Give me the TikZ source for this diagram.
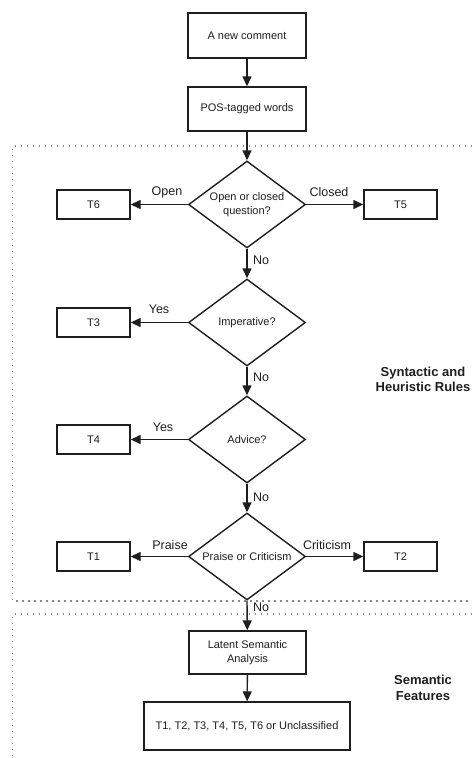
\documentclass[tikz,border=0pt]{standalone}
\usepackage{fontspec}
\setmainfont{Liberation Sans}
\usetikzlibrary{shapes.geometric,arrows.meta}
\definecolor{ink}{HTML}{1E1E1E}
\definecolor{dotc}{HTML}{8A8A8A}
\tikzset{
  stepbox/.style={draw=ink,line width=1.4pt,inner sep=0pt,align=center,font=\fontsize{11}{13.5}\selectfont,text=ink},
  decision/.style={diamond,draw=ink,line width=1.4pt,inner sep=0pt,aspect=1.345,minimum width=117pt,minimum height=87pt,align=center,font=\fontsize{11}{13.5}\selectfont,text=ink},
  flow/.style={draw=ink,line width=1.4pt,-{Triangle[length=10pt,width=9pt]}},
  lbl/.style={font=\fontsize{12.5}{14}\selectfont,text=ink,inner sep=0pt},
  region/.style={draw=dotc,line width=1.4pt,dash pattern=on 1.4pt off 4.6pt},
  regtitle/.style={font=\bfseries\fontsize{13}{15.5}\selectfont,align=center,text=ink,inner sep=0pt}
}
\begin{document}
\begin{tikzpicture}[x=1pt,y=-1pt]
\useasboundingbox (0,0) rectangle (472,758);
% regions
\coordinate (r1tl) at (12.7,146);
\coordinate (r1tr) at (472,146);
\coordinate (r1bl) at (12.7,601);
\coordinate (r1br) at (472,601);
\coordinate (r2tl) at (12.7,614);
\coordinate (r2tr) at (472,614);
\coordinate (r2bl) at (12.7,758);
\draw[region] (r1tr) -- (r1tl) -- (r1bl) -- (r1br);
\draw[region] (r2tr) -- (r2tl) -- (r2bl);
% nodes
\node[stepbox,minimum width=118pt,minimum height=45pt] (new) at (247,35.5) {A new comment};
\node[stepbox,minimum width=118pt,minimum height=44pt] (pos) at (247,109) {POS-tagged words};
\node[decision] (d1) at (247,204.5) {Open or closed\\question?};
\node[stepbox,minimum width=73pt,minimum height=29pt] (t6) at (93.5,204.5) {T6};
\node[stepbox,minimum width=73pt,minimum height=29pt] (t5) at (400.5,204.5) {T5};
\node[decision] (d2) at (247,322.5) {Imperative?};
\node[stepbox,minimum width=73pt,minimum height=29pt] (t3) at (93.5,322.5) {T3};
\node[decision] (d3) at (247,439.5) {Advice?};
\node[stepbox,minimum width=73pt,minimum height=29pt] (t4) at (93.5,439.5) {T4};
\node[decision] (d4) at (247,556.5) {Praise or Criticism};
\node[stepbox,minimum width=73pt,minimum height=29pt] (t1) at (93.5,556.5) {T1};
\node[stepbox,minimum width=73pt,minimum height=29pt] (t2) at (400.5,556.5) {T2};
\node[stepbox,minimum width=117pt,minimum height=43pt] (lsa) at (247.5,652.5) {Latent Semantic\\Analysis};
\node[stepbox,minimum width=206pt,minimum height=48pt] (out) at (247,726) {T1, T2, T3, T4, T5, T6 or Unclassified};
% connectors
\draw[flow] (new) -- (pos);
\draw[flow] (pos) -- (d1.north);
\draw[flow] (d1.west) -- (t6);
\draw[flow] (d1.east) -- (t5);
\draw[flow] (d1.south) -- (d2.north);
\draw[flow] (d2.west) -- (t3);
\draw[flow] (d2.south) -- (d3.north);
\draw[flow] (d3.west) -- (t4);
\draw[flow] (d3.south) -- (d4.north);
\draw[flow] (d4.west) -- (t1);
\draw[flow] (d4.east) -- (t2);
\draw[flow] (d4.south) -- (lsa);
\draw[flow] (lsa) -- (out);
% labels
\node[lbl] (lopen) at (167,192) {Open};
\node[lbl] (lclosed) at (329,192) {Closed};
\node[lbl] (lyes1) at (159,309.5) {Yes};
\node[lbl] (lyes2) at (163,427) {Yes};
\node[lbl] (lpraise) at (170,545) {Praise};
\node[lbl] (lcrit) at (327,545) {Criticism};
\node[lbl,anchor=west] (lno1) at (253,260) {No};
\node[lbl,anchor=west] (lno2) at (253,377.5) {No};
\node[lbl,anchor=west] (lno3) at (253,497) {No};
\node[lbl,anchor=west] (lno4) at (253,607) {No};
\node[regtitle] (syn) at (423,379.5) {Syntactic and\\Heuristic Rules};
\node[regtitle] (sem) at (423,688) {Semantic\\Features};
\end{tikzpicture}
\end{document}
